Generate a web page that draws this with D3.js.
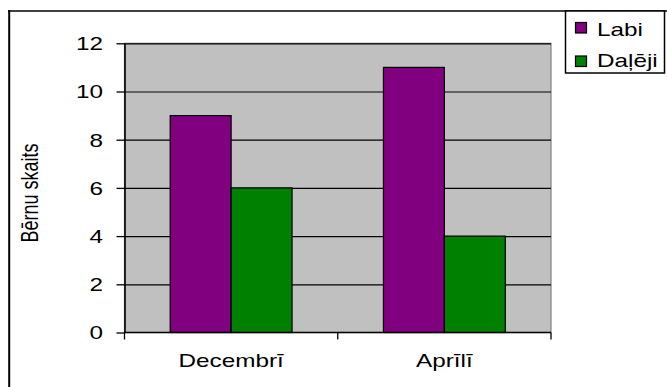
<!DOCTYPE html>
<html>
<head>
<meta charset="utf-8">
<script src="https://cdn.jsdelivr.net/npm/d3@7"></script>
<style>
  html, body { margin: 0; padding: 0; background: #fff; }
  svg { display: block; }
  text { font-family: "Liberation Sans", Arial, sans-serif; font-size: 18px; fill: #000; }
</style>
</head>
<body>
<svg id="chart" width="667" height="387"></svg>
<script>
// Chart data
const categories = ["Decembrī", "Aprīlī"];
const seriesNames = ["Labi", "Daļēji"];
const labiValues = [9, 11];
const daljejiValues = [6, 4];
const yTicks = [0, 2, 4, 6, 8, 10, 12];
const yTitle = "Bērnu skaits";
const seriesColors = ["#800080", "#008000"];

const seriesValues = [labiValues, daljejiValues];
const rows = categories.map((c, i) => ({
  category: c,
  values: seriesNames.map((s, j) => ({ series: s, value: seriesValues[j][i], color: seriesColors[j] }))
}));

const SX = 1.35; // horizontal text stretch
const svg = d3.select("#chart");

// plot box
const plot = { left: 124.5, right: 551, top: 43.3, bottom: 332.5 };

const x0 = d3.scaleBand().domain(categories).range([plot.left, plot.right]).paddingInner(0).paddingOuter(0);
const x1 = d3.scaleBand().domain(seriesNames).range([0, x0.bandwidth()]).paddingInner(0).paddingOuter(0.75);
const y = d3.scaleLinear().domain([0, 12]).range([plot.bottom, plot.top]);

// outer frame (continues beyond the right and bottom edges)
svg.append("line").attr("x1", 9.2).attr("x2", 9.2).attr("y1", 10).attr("y2", 400)
  .attr("stroke", "#000").attr("stroke-width", 2);
svg.append("line").attr("x1", 8).attr("x2", 680).attr("y1", 11).attr("y2", 11)
  .attr("stroke", "#000").attr("stroke-width", 1.6);

// plot background
svg.append("rect")
  .attr("x", plot.left).attr("y", plot.top)
  .attr("width", plot.right - plot.left).attr("height", plot.bottom - plot.top)
  .attr("fill", "#c0c0c0").attr("stroke", "#808080").attr("stroke-width", 1.2);

// gridlines
const grid = svg.append("g").attr("transform", `translate(${plot.left},0)`)
  .call(d3.axisLeft(y).tickValues(yTicks.filter(t => t > 0)).tickSize(-(plot.right - plot.left)).tickFormat(""));
grid.select(".domain").remove();
grid.selectAll("line").attr("stroke", "#000").attr("stroke-width", 1.2);

// bars
const groups = svg.append("g").selectAll("g").data(rows).join("g")
  .attr("transform", d => `translate(${x0(d.category)},0)`);
groups.selectAll("rect").data(d => d.values).join("rect")
  .attr("x", d => x1(d.series))
  .attr("y", d => y(d.value))
  .attr("width", x1.bandwidth())
  .attr("height", d => y(0) - y(d.value))
  .attr("fill", d => d.color)
  .attr("stroke", "#000").attr("stroke-width", 1.2);

// y axis
const yAxis = svg.append("g").attr("transform", `translate(${plot.left},0)`)
  .call(d3.axisLeft(y).tickValues(yTicks).tickSize(8).tickSizeOuter(0).tickFormat(d3.format("d")));
yAxis.select(".domain").attr("stroke", "#000").attr("stroke-width", 1.6);
yAxis.selectAll(".tick line").attr("stroke", "#000").attr("stroke-width", 1.3);
yAxis.selectAll(".tick text")
  .attr("x", -21.5 / SX).attr("dy", "0.36em")
  .attr("transform", `scale(${SX},1)`)
  .style("font-family", "'Liberation Sans', Arial, sans-serif").style("font-size", "18px").attr("fill", "#000");

// x axis line and category ticks
svg.append("line").attr("x1", plot.left).attr("x2", plot.right).attr("y1", plot.bottom).attr("y2", plot.bottom)
  .attr("stroke", "#000").attr("stroke-width", 1.6);
const catTicks = categories.map(c => x0(c)).concat([x0.range()[1]]);
svg.append("g").selectAll("line").data(catTicks).join("line")
  .attr("x1", d => d).attr("x2", d => d).attr("y1", plot.bottom).attr("y2", plot.bottom + 7)
  .attr("stroke", "#000").attr("stroke-width", 1.3);

// category labels
svg.append("g").selectAll("g").data(categories).join("g")
  .attr("transform", d => `translate(${x0(d) + x0.bandwidth() / 2},367) scale(${SX},1)`)
  .append("text").attr("text-anchor", "middle").text(d => d);

// y axis title
svg.append("g").attr("transform", `translate(38,193) scale(${SX},1) rotate(-90)`)
  .append("text").attr("text-anchor", "middle").text(yTitle);

// legend
const legend = svg.append("g");
legend.append("rect").attr("x", 565.5).attr("y", 11).attr("width", 99).attr("height", 62)
  .attr("fill", "#fff").attr("stroke", "#000").attr("stroke-width", 1.5);
const items = legend.selectAll("g.item").data(seriesNames).join("g").attr("class", "item");
items.append("rect").attr("x", 575.5).attr("y", (d, i) => 22.5 + i * 33.5).attr("width", 11).attr("height", 10.5)
  .attr("fill", (d, i) => seriesColors[i]).attr("stroke", "#000").attr("stroke-width", 1.2);
items.append("g").attr("transform", (d, i) => `translate(597,${36 + i * 30.5}) scale(${SX},1)`)
  .append("text").text(d => d);
</script>
</body>
</html>
